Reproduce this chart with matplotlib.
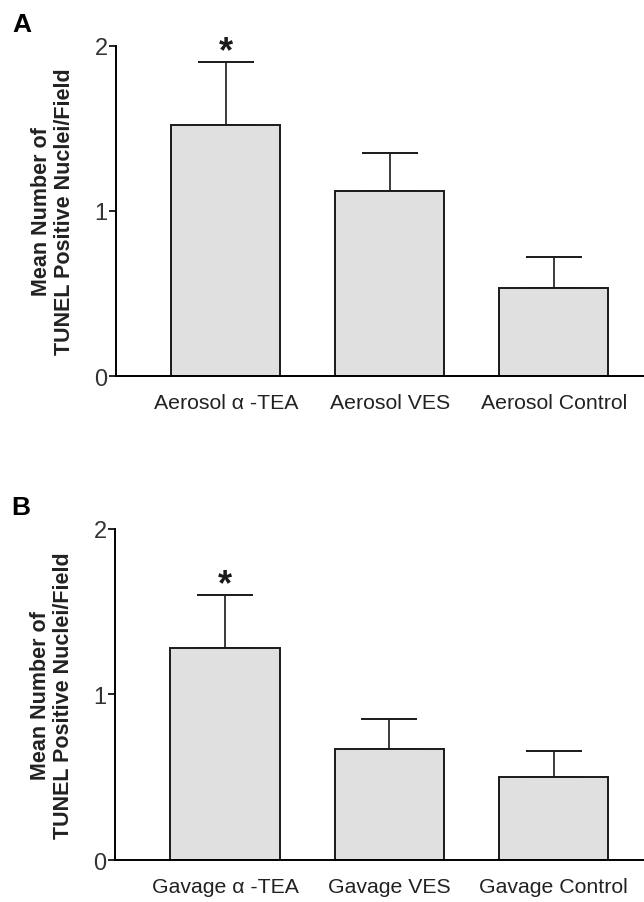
import numpy as np
import matplotlib
matplotlib.use('Agg')
import matplotlib.pyplot as plt

plt.rcParams['font.family'] = ['Liberation Sans', 'DejaVu Sans']

# panel A (aerosol)
labels_a = ['Aerosol \u03b1 -TEA', 'Aerosol VES', 'Aerosol Control']
means_a = [1.52, 1.12, 0.53]
errs_a = [0.38, 0.23, 0.19]

# panel B (gavage)
labels_b = ['Gavage \u03b1 -TEA', 'Gavage VES', 'Gavage Control']
means_b = [1.28, 0.67, 0.50]
errs_b = [0.32, 0.18, 0.16]

sig_a = [True, False, False]
sig_b = [True, False, False]

ylabel = 'Mean Number of\nTUNEL Positive Nuclei/Field'

fig = plt.figure(figsize=(6.44, 9.03), dpi=100)

def draw_panel(rect, labels, means, errs, sig, letter):
    ax = fig.add_axes(rect)
    x = np.arange(len(means))
    ax.bar(x, means, width=0.665, color='#e0e0e0', edgecolor='#1a1a1a',
           linewidth=1.4, zorder=2)
    ax.errorbar(x, means, yerr=[np.zeros(len(errs)), errs], fmt='none',
                ecolor='#1a1a1a', elinewidth=1.2, capsize=20, capthick=1.4,
                zorder=1)
    # asterisk above significant bars
    for xi, m, e, s in zip(x, means, errs, sig):
        if s:
            ax.annotate('*', (xi, m + e), xytext=(0, -5), textcoords='offset points',
                        ha='center', va='bottom', fontsize=26, fontweight='bold',
                        color='#1a1a1a')
    ax.set_xlim(-0.67, 2.55)
    ax.set_ylim(0, 2)
    ax.set_yticks([0, 1, 2])
    ax.set_xticks(x)
    ax.set_xticklabels(labels, fontsize=15.3, color='#222222')
    ax.tick_params(axis='x', length=0, pad=12)
    ax.tick_params(axis='y', length=5, width=1.2, pad=1, labelsize=17,
                   labelcolor='#333333')
    for side in ['top', 'right']:
        ax.spines[side].set_visible(False)
    ax.spines['left'].set_linewidth(1.4)
    ax.spines['bottom'].set_linewidth(1.4)
    ax.set_ylabel(ylabel, fontsize=15.5, fontweight='bold', color='#222222',
                  linespacing=1.15, labelpad=14)
    ax.text(-0.197, 1.03, letter, transform=ax.transAxes, fontsize=19,
            fontweight='bold', ha='left', va='bottom')
    return ax

draw_panel([0.180, 0.5825, 0.820, 0.3658], labels_a, means_a, errs_a, sig_a, 'A')
draw_panel([0.1786, 0.0465, 0.8214, 0.367], labels_b, means_b, errs_b, sig_b, 'B')

fig.savefig('out.png', dpi=100)
